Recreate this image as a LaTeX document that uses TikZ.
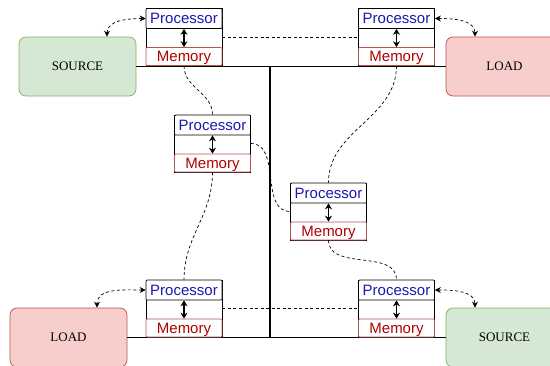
\documentclass[tikz,border=0pt]{standalone}
\usepackage{fontspec}
\setmainfont{Liberation Serif}
\newfontfamily\agentfont{Liberation Sans}
\usetikzlibrary{arrows.meta,positioning}

\definecolor{srcfill}{HTML}{D5E8D4}
\definecolor{srcline}{HTML}{82B366}
\definecolor{loadfill}{HTML}{F8CECC}
\definecolor{loadline}{HTML}{B85450}
\definecolor{proctext}{HTML}{1A1AB0}
\definecolor{memtext}{HTML}{B00000}

\begin{document}
\begin{tikzpicture}[
    x=1pt, y=-1pt,
    agent/.style={draw, line width=0.7pt, minimum width=76pt, minimum height=57pt, inner sep=0pt},
    proc/.style={draw, fill=white, rounded corners=1pt, line width=0.7pt, minimum width=76pt,
        minimum height=20pt, inner sep=0pt, text=proctext, font=\agentfont\fontsize{15}{15}\selectfont},
    mem/.style={draw=loadline, fill=white, rounded corners=1pt, line width=0.7pt, minimum width=76pt,
        minimum height=18pt, inner sep=0pt, text depth=0pt, text=memtext, font=\agentfont\fontsize{15}{15}\selectfont},
    term/.style={draw, rounded corners=7pt, line width=0.7pt, minimum width=117pt, minimum height=59pt,
        font=\fontsize{13}{13}\selectfont},
    source/.style={term, fill=srcfill, draw=srcline},
    load/.style={term, fill=loadfill, draw=loadline},
    bus/.style={line width=1.4pt},
    link/.style={dashed, dash pattern=on 3pt off 2.5pt, line width=0.7pt},
    ctrl/.style={link, {Stealth[length=6pt,width=6pt]}-{Stealth[length=6pt,width=6pt]}},
    rw/.style={line width=1.4pt, {Stealth[length=6pt,width=7pt]}-{Stealth[length=6pt,width=7pt]}}
]
    \useasboundingbox (0,0) rectangle (550,365);
    \clip (0,0) rectangle (550,365);

    % sources and loads
    \node[source] (src1) at (77.5,66.5) {SOURCE};
    \node[load] (load1) at (504.5,66.5) {LOAD};
    \node[load] (load2) at (68.5,337.5) {LOAD};
    \node[source] (src2) at (504.5,337.5) {SOURCE};

    % bus
    \coordinate (j1) at (270,66);
    \coordinate (j2) at (270,337);
    \draw[bus] (src1.east) -- (load1.west);
    \draw[bus] (load2.east) -- (src2.west);
    \draw[bus] (j1) -- (j2);

    % agents: processor on top, memory below
    \foreach \n/\x/\y in {1/184/37, 2/396.5/37, 3/212.5/143.5, 4/328.5/211.5, 5/184/308.5, 6/396.5/308.5} {
        \node[agent, fill=white] (a\n) at (\x,\y) {};
        \node[proc, below=0pt of a\n.north] (p\n) {Processor};
        \node[mem, above=0pt of a\n.south] (m\n) {Memory};
        \draw[rw] (p\n.south) -- (m\n.north);
    }

    % links between agents
    \draw[link] (a1.east) -- (a2.west);
    \draw[link] (a5.east) -- (a6.west);
    \draw[link] (m1.south) to[out=-90, in=90] (p3.north);
    \draw[link] (m3.south) to[out=-90, in=90] (p5.north);
    \draw[link] (m2.south) to[out=-90, in=90] (p4.north);
    \draw[link] (m4.south) to[out=-90, in=90] (p6.north);
    \draw[link] (a3.east) to[out=0, in=180] (a4.west);

    % control of sources and loads
    \draw[ctrl] (p1.west) to[out=180, in=90] ([xshift=29.5pt]src1.north);
    \draw[ctrl] (p2.east) to[out=0, in=90] ([xshift=-29.5pt]load1.north);
    \draw[ctrl] (p5.west) to[out=180, in=90] ([xshift=28.5pt]load2.north);
    \draw[ctrl] (p6.east) to[out=0, in=90] ([xshift=-29.5pt]src2.north);
\end{tikzpicture}
\end{document}
